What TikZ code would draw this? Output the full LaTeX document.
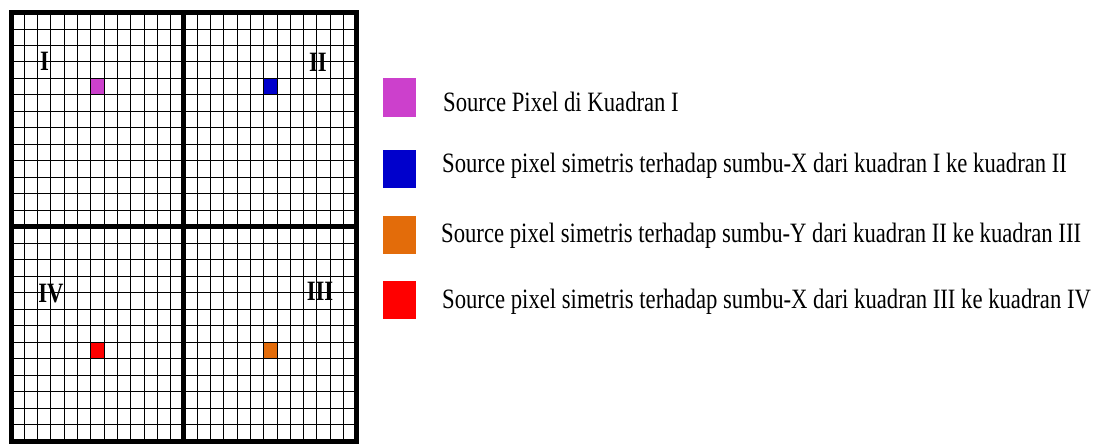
\documentclass[tikz,border=0pt]{standalone}
\usepackage{fontspec}
\newfontfamily\legendfont[FakeStretch=0.81]{Liberation Serif}
\definecolor{pixmagenta}{RGB}{204,64,204}
\definecolor{pixblue}{RGB}{0,0,204}
\definecolor{pixorange}{RGB}{227,108,10}
\definecolor{pixred}{RGB}{255,0,0}
\tikzset{
  gridline/.style={line width=0.9pt},
  frameline/.style={line width=5pt},
  pixel/.style={minimum width=13.3pt, minimum height=16.48pt, inner sep=0pt},
  legbox/.style={minimum width=33pt, minimum height=38pt, inner sep=0pt},
  legtext/.style={anchor=base west, inner sep=0pt, font=\legendfont\fontsize{28}{30}\selectfont},
  quadlabel/.style={inner sep=0pt, font=\legendfont\bfseries\fontsize{28}{30}\selectfont}
}
\begin{document}
\begin{tikzpicture}[x=1pt, y=-1pt]
   \useasboundingbox (0,0) rectangle (1098,444);
   \node[pixel, fill=pixmagenta] (P1) at (97.45,86.7) {};
   \node[pixel, fill=pixblue] (P2) at (270.35,86.7) {};
   \node[pixel, fill=pixorange] (P3) at (270.35,350.3) {};
   \node[pixel, fill=pixred] (P4) at (97.45,350.3) {};
   \foreach \i in {1,...,25}
      \draw[gridline] ({11+13.3*\i},12.5) -- ({11+13.3*\i},441);
   \foreach \j in {1,...,25}
      \draw[gridline] (11,{12.5+16.48*\j}) -- (356.8,{12.5+16.48*\j});
   \draw[frameline] (11,12.5) rectangle (356.8,441);
   \draw[frameline] (183.9,12.5) -- (183.9,441);
   \draw[frameline] (11,226.7) -- (356.8,226.7);
   \node[quadlabel] (Q1) at (44.5,61.5) {I};
   \node[quadlabel] (Q2) at (318,62) {II};
   \node[quadlabel] (Q3) at (320,291) {III};
   \node[quadlabel] (Q4) at (51,294) {IV};
   \node[legbox, fill=pixmagenta] (L1) at (399.5,97.5) {};
   \node[legbox, fill=pixblue] (L2) at (399.5,168.5) {};
   \node[legbox, fill=pixorange] (L3) at (399.5,234.5) {};
   \node[legbox, fill=pixred] (L4) at (399.5,300) {};
   \node[legtext] (T1) at (443,111.7) {Source Pixel di Kuadran I};
   \node[legtext] (T2) at (442,172) {Source pixel simetris terhadap sumbu-X dari kuadran I ke kuadran II};
   \node[legtext] (T3) at (441,242.5) {Source pixel simetris terhadap sumbu-Y dari kuadran II ke kuadran III};
   \node[legtext] (T4) at (442,308) {Source pixel simetris terhadap sumbu-X dari kuadran III ke kuadran IV};
\end{tikzpicture}
\end{document}
